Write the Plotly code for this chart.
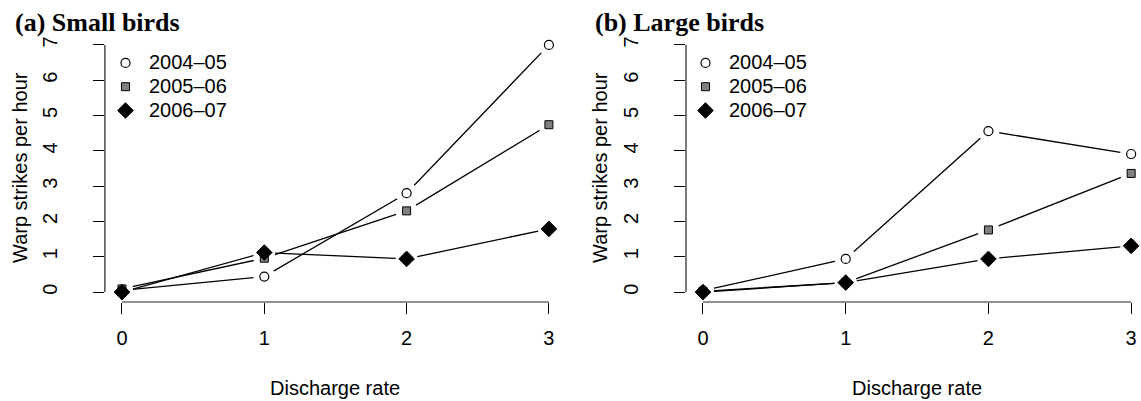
import plotly.graph_objects as go

W, H = 1141, 401

discharge = [0, 1, 2, 3]
seasons = ["2004–05", "2005–06", "2006–07"]

small_2004 = [0.05, 0.44, 2.80, 7.00]
small_2005 = [0.09, 0.96, 2.30, 4.74]
small_2006 = [0.00, 1.12, 0.94, 1.79]

large_2004 = [0.04, 0.94, 4.56, 3.91]
large_2005 = [0.02, 0.27, 1.76, 3.36]
large_2006 = [0.00, 0.27, 0.94, 1.31]

x_ticks = [0, 1, 2, 3]
y_ticks = [0, 1, 2, 3, 4, 5, 6, 7]

panel_titles = ["(a) Small birds", "(b) Large birds"]
x_title = "Discharge rate"
y_title = "Warp strikes per hour"

styles = [
    dict(symbol="circle", size=9, color="white", line=dict(color="black", width=1.2)),
    dict(symbol="square", size=8, color="#808080", line=dict(color="black", width=1)),
    dict(symbol="diamond", size=12, color="black", line=dict(color="black", width=1)),
]

FONT = "Liberation Sans, Arial, Helvetica, sans-serif"

fig = go.Figure()

panels = [
    ("x", "y", [small_2004, small_2005, small_2006], "legend"),
    ("x2", "y2", [large_2004, large_2005, large_2006], "legend2"),
]

for xa, ya, series, leg in panels:
    # lines
    for vals in series:
        fig.add_trace(go.Scatter(x=discharge, y=vals, xaxis=xa, yaxis=ya, mode="lines",
                                 line=dict(color="black", width=1.3), showlegend=False,
                                 hoverinfo="skip"))
    # white masks to create R type="b" gaps
    for vals in series:
        fig.add_trace(go.Scatter(x=discharge, y=vals, xaxis=xa, yaxis=ya, mode="markers",
                                 marker=dict(symbol="circle", size=22, color="white",
                                             line=dict(width=0)),
                                 showlegend=False, hoverinfo="skip"))
    # markers
    for name, vals, st in zip(seasons, series, styles):
        fig.add_trace(go.Scatter(x=discharge, y=vals, xaxis=xa, yaxis=ya, mode="markers",
                                 marker=st, name='<span style="font-size:20px">%s</span>' % name,
                                 legend=leg, showlegend=True))

ydom = [99 / H, 366 / H]
xdom1 = [104.9 / W, 566 / W]
xdom2 = [686 / W, 1.0]

axis_common = dict(showline=False, showgrid=False, zeroline=False, ticks="outside",
                   ticklen=11, tickwidth=1, tickcolor="black",
                   tickfont=dict(family=FONT, size=20, color="black"))

legend_common = dict(xanchor="left", yanchor="top", bgcolor="rgba(0,0,0,0)",
                     font=dict(family=FONT, size=16, color="black"),
                     itemwidth=37, tracegroupgap=0)

fig.update_layout(
    width=W, height=H,
    margin=dict(l=0, r=0, t=0, b=0),
    paper_bgcolor="white", plot_bgcolor="white",
    xaxis=dict(domain=xdom1, range=[-0.12, 3.12], tickvals=x_ticks, ticklabelstandoff=7,
               anchor="y", **axis_common),
    yaxis=dict(domain=ydom, range=[-0.28, 7.28], tickvals=y_ticks, tickangle=-90,
               ticklabelstandoff=28, anchor="x", **axis_common),
    xaxis2=dict(domain=xdom2, range=[-0.119, 3.069], tickvals=x_ticks, ticklabelstandoff=7,
                anchor="y2", **axis_common),
    yaxis2=dict(domain=ydom, range=[-0.28, 7.28], tickvals=y_ticks, tickangle=-90,
                ticklabelstandoff=28, anchor="x2", **axis_common),
    legend=dict(x=102 / W, y=1 - 46 / H, **legend_common),
    legend2=dict(x=682 / W, y=1 - 46 / H, **legend_common),
    showlegend=True,
)

# R-style axis lines spanning only the tick range
for xa, ya in [("x", "y"), ("x2", "y2")]:
    fig.add_shape(type="line", xref=xa, yref=ya + " domain", x0=0, x1=3, y0=0, y1=0,
                  line=dict(color="#222", width=1.2), layer="above")
    fig.add_shape(type="line", xref=xa + " domain", yref=ya, x0=0, x1=0, y0=0, y1=7,
                  line=dict(color="#222", width=1.2), layer="above")

ann = []
for title, xpx in zip(panel_titles, [13, 593]):
    ann.append(dict(text="<b>%s</b>" % title, x=xpx / W, y=1 - 22 / H, xref="paper", yref="paper",
                    xanchor="left", yanchor="middle", showarrow=False,
                    font=dict(family="Liberation Serif, Times New Roman, serif", size=26, color="black")))
for cx in [335 / W, 917 / W]:
    ann.append(dict(text=x_title, x=cx, y=1 - 388 / H, xref="paper", yref="paper",
                    xanchor="center", yanchor="middle", showarrow=False,
                    font=dict(family=FONT, size=20, color="black")))
for cx in [20 / W, 600 / W]:
    ann.append(dict(text=y_title, x=cx, y=1 - 168 / H, xref="paper", yref="paper",
                    xanchor="center", yanchor="middle", showarrow=False, textangle=-90,
                    font=dict(family=FONT, size=20, color="black")))
fig.update_layout(annotations=ann)

fig.write_html("out.html", config={"displayModeBar": False},
               post_script="document.body.style.margin='0';")
